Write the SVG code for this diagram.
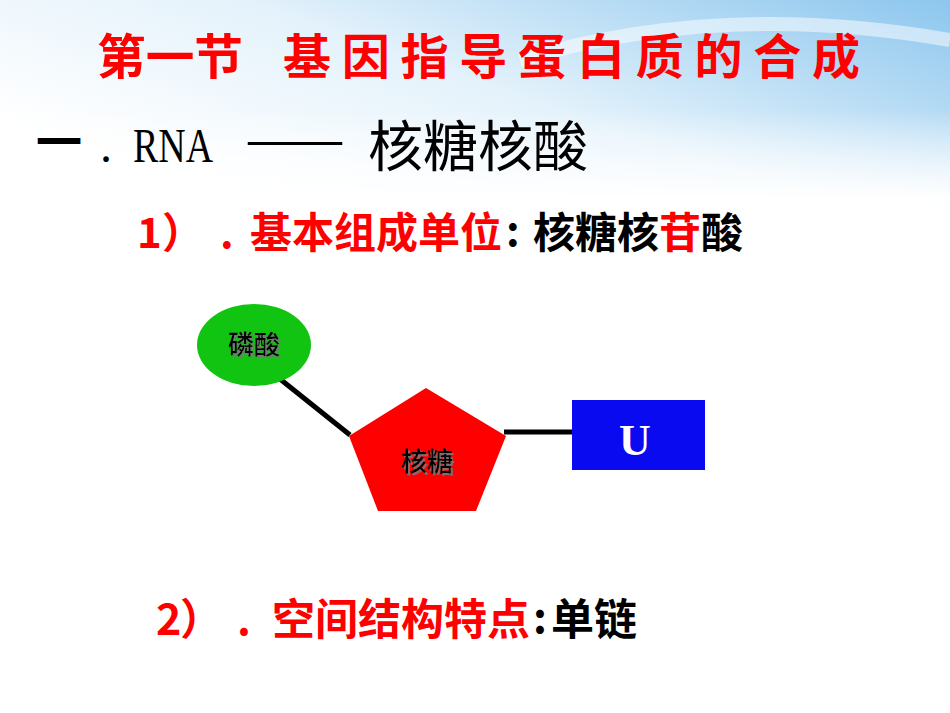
<svg xmlns="http://www.w3.org/2000/svg" width="950" height="713" viewBox="0 0 950 713">
<defs>
<linearGradient id="sky" x1="0" y1="0.6" x2="1" y2="0">
<stop offset="0" stop-color="#ffffff"/>
<stop offset="0.45" stop-color="#e4f2fb"/>
<stop offset="1" stop-color="#8cc6ee"/>
</linearGradient>
<linearGradient id="fade" x1="0" y1="0" x2="0" y2="1">
<stop offset="0" stop-color="#fff"/>
<stop offset="0.55" stop-color="#fff"/>
<stop offset="1" stop-color="#000"/>
</linearGradient>
<mask id="m"><rect x="0" y="0" width="950" height="200" fill="url(#fade)"/></mask>
<filter id="shadow" x="-20%" y="-20%" width="140%" height="140%">
<feDropShadow dx="2" dy="2" stdDeviation="0.6" flood-color="#777" flood-opacity="0.9"/>
</filter>
<style>
.cjk{font-family:"Noto Sans CJK SC","Noto Sans",sans-serif;}
.red{fill:#ff0000;}
.blk{fill:#000;}
.lbl{font-family:"Noto Sans CJK SC",sans-serif;font-size:26px;font-weight:500;text-anchor:middle;fill:#000;filter:url(#shadow);}
.link{stroke:#000;stroke-width:5;fill:none;}
</style>
</defs>
<rect width="950" height="713" fill="#ffffff"/>
<rect x="0" y="0" width="950" height="200" fill="url(#sky)" mask="url(#m)"/>
<path d="M520 60 Q720 0 950 40" stroke="#ffffff" stroke-opacity="0.5" stroke-width="14" fill="none"/>

<g id="title" class="cjk red" font-weight="700" font-size="48">
<text x="97" y="74" textLength="146" lengthAdjust="spacingAndGlyphs">第一节</text>
<text x="283" y="74" textLength="577" lengthAdjust="spacing">基因指导蛋白质的合成</text>
</g>

<g id="heading" class="blk">
<text x="36" y="158" class="cjk" font-weight="700" font-size="46">一</text>
<text x="100" y="162" font-family="Liberation Serif,serif" font-size="48">.</text>
<text x="133" y="162" font-family="Liberation Serif,serif" font-size="48" textLength="80" lengthAdjust="spacingAndGlyphs">RNA</text>
<text x="245" y="158" class="cjk" font-size="50" textLength="100" lengthAdjust="spacingAndGlyphs">——</text>
<text x="368" y="166" class="cjk" font-size="55">核糖核酸</text>
</g>

<g id="point1" class="cjk" font-weight="700" font-size="42">
<text x="137" y="248" class="red">1</text>
<text x="162" y="248" class="red">）</text>
<text x="220" y="248" class="red">.</text>
<text x="250" y="248" class="red">基本组成单位</text>
<text x="506" y="246" class="blk">:</text>
<text x="533" y="248" class="blk">核糖核<tspan class="red">苷</tspan>酸</text>
</g>

<g id="connectors">
<line class="link" x1="280" y1="379" x2="350" y2="435"/>
<line class="link" x1="504" y1="432" x2="573" y2="432"/>
</g>

<g id="phosphate">
<ellipse cx="254" cy="345" rx="57" ry="41" fill="#11c411"/>
<text x="254" y="354" class="lbl">磷酸</text>
</g>

<g id="ribose">
<polygon points="426,388 506,436 476,511 378,511 349,436" fill="#ff0000"/>
<text x="427" y="471" class="lbl">核糖</text>
</g>

<g id="base">
<rect x="572" y="400" width="133" height="70" fill="#0a0af0"/>
<text x="635" y="455" font-family="Liberation Serif,serif" font-weight="700" font-size="44" fill="#fff" text-anchor="middle">U</text>
</g>

<g id="point2" class="cjk" font-weight="700" font-size="43">
<text x="156" y="635" class="red">2</text>
<text x="180" y="635" class="red">）</text>
<text x="237" y="635" class="red">.</text>
<text x="272" y="635" class="red">空间结构特点</text>
<text x="533" y="633" class="blk">:</text>
<text x="551" y="635" class="blk">单链</text>
</g>
</svg>
